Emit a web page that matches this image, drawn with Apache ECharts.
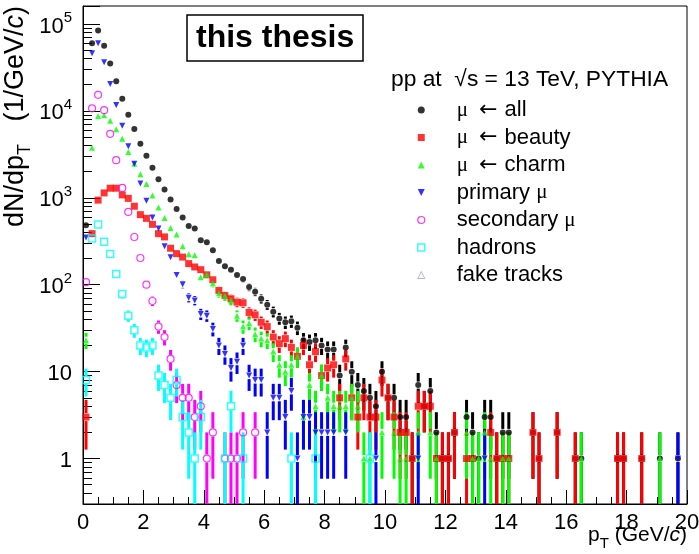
<!DOCTYPE html>
<html><head><meta charset="utf-8">
<script src="https://cdn.jsdelivr.net/npm/echarts@6/dist/echarts.min.js"></script>
<style>html,body{margin:0;padding:0;background:#fff}#c{width:699px;height:554px}</style>
</head><body><div id="c"></div>
<script>
// ---- histogram binning (0.2 GeV/c bins from 0 to 20) ----
const binWidth = 0.2;
const nBins = 100;
const binCenters = [];
for (let i = 0; i < nBins; i++) binCenters.push(Math.round((0.1 + binWidth * i) * 10) / 10);

// ---- series values, 10 bins (2 GeV/c) per row ----
const muAll = [
  483, 60000, 84000, 56000, 35000, 22000, 13800, 9000, 6200, 4200,
  3040, 2210, 1640, 1250, 955, 745, 593, 475, 443, 325,
  308, 249, 188, 163, 149, 129, 116, 94, 83, 69,
  59, 49, 41, 37, 38, 32, 23, 22, 23, 20,
  18, 18, 9, 19, 10, 7, 6, 5, 4, 10,
  5, 5, 3, 3, 1, 7, 4, 6, 2, 1,
  1, 2, 0, 3, 2, 1, 3, 3, 1, 2,
  2, 0, 0, 0, 2, 1, 0, 0, 2, 0,
  0, 1, 1, 0, 0, 0, 0, 0, 1, 1,
  0, 0, 1, 0, 0, 1, 0, 0, 1, 0
];
const muBeauty = [
  3, 387, 940, 1138, 1290, 1290, 1080, 985, 800, 640,
  580, 495, 387, 355, 263, 228, 208, 175, 160, 149,
  130, 114, 86, 75, 69, 63, 62, 48, 45, 37,
  33, 25, 21, 24, 19, 15, 20, 12, 17, 9,
  11, 12, 5, 14, 5, 3, 5, 3, 3, 8,
  5, 3, 2, 2, 1, 4, 4, 4, 1, 1,
  1, 2, 0, 1, 1, 0, 0, 2, 1, 1,
  1, 0, 0, 0, 2, 1, 0, 0, 2, 0,
  0, 1, 0, 0, 0, 0, 0, 0, 1, 1,
  0, 0, 1, 0, 0, 0, 0, 0, 0, 0
];
const muCharm = [
  23, 3760, 8710, 8900, 7700, 6160, 4790, 3370, 2470, 1870,
  1440, 1060, 775, 585, 450, 378, 278, 224, 218, 122,
  130, 103, 80, 74, 66, 44, 33, 36, 27, 24,
  23, 17, 12, 10, 12, 15, 3, 7, 4, 9,
  5, 4, 4, 4, 5, 4, 1, 1, 0, 2,
  0, 2, 1, 1, 0, 2, 0, 2, 1, 0,
  0, 0, 0, 2, 1, 1, 2, 1, 0, 1,
  1, 0, 0, 0, 0, 0, 0, 0, 0, 0,
  0, 0, 1, 0, 0, 0, 0, 0, 0, 0,
  0, 0, 0, 0, 0, 1, 0, 0, 0, 0
];
const muPrimary = [
  349, 45900, 60000, 36200, 20400, 11700, 6730, 3930, 2470, 1460,
  925, 595, 443, 277, 207, 129, 101, 71, 66, 46,
  44, 31, 20, 16, 11, 13, 20, 9, 8, 8,
  2, 5, 5, 3, 6, 1, 3, 3, 2, 2,
  2, 2, 0, 2, 0, 0, 0, 0, 1, 0,
  0, 0, 0, 0, 0, 1, 0, 0, 0, 0,
  0, 0, 0, 0, 0, 0, 1, 0, 0, 0,
  0, 0, 0, 0, 0, 0, 0, 0, 0, 0,
  0, 0, 0, 0, 0, 0, 0, 0, 0, 0,
  0, 0, 0, 0, 0, 0, 0, 0, 1, 0
];
const muSecondary = [
  107, 10700, 15300, 10200, 5450, 2710, 1300, 688, 354, 203,
  100, 65, 33, 25, 14, 7, 5, 5, 3, 4,
  1, 2, 0, 1, 1, 1, 2, 0, 2, 0,
  0, 0, 0, 0, 0, 0, 0, 0, 0, 0,
  0, 0, 0, 0, 0, 0, 0, 0, 0, 0,
  0, 0, 0, 0, 0, 0, 0, 0, 0, 0,
  0, 0, 0, 0, 0, 0, 0, 0, 0, 0,
  0, 0, 0, 0, 0, 0, 0, 0, 0, 0,
  0, 0, 0, 0, 0, 0, 0, 0, 0, 0,
  0, 0, 0, 0, 0, 0, 0, 0, 0, 0
];
const hadrons = [
  8, 340, 492, 313, 225, 133, 78, 44, 30, 20,
  19, 20, 9, 7, 5, 8, 3, 2, 1, 3,
  0, 0, 0, 1, 4, 0, 1, 0, 0, 0,
  0, 0, 0, 0, 1, 0, 0, 0, 1, 0,
  0, 0, 0, 0, 0, 0, 0, 1, 0, 0,
  0, 0, 0, 0, 0, 0, 0, 0, 0, 0,
  0, 0, 0, 0, 0, 0, 0, 0, 0, 0,
  0, 0, 0, 0, 0, 0, 0, 0, 0, 0,
  0, 0, 0, 0, 0, 0, 0, 0, 0, 0,
  0, 0, 0, 0, 0, 0, 0, 0, 0, 0
];
const fakeTracks = [];

const legendNames = ['μ ← all', 'μ ← beauty', 'μ ← charm', 'primary μ', 'secondary μ', 'hadrons', 'fake tracks'];
const headerText = 'pp at  √s = 13 TeV, PYTHIA';

const FONT = '"Liberation Sans", Arial, Helvetica, sans-serif';
const SERIF = '"Liberation Serif", "Times New Roman", serif';
const ARROWFONT = '"DejaVu Sans", sans-serif';
const Y_MIN = 0.3, Y_MAX = 161000;
const INV_TRI = 'path://M0,0L10,0L5,10Z';

const histos = [
  {name: legendNames[0], values: muAll, color: '#000000', symbol: 'circle', size: 6, filled: true},
  {name: legendNames[1], values: muBeauty, color: '#ff0000', symbol: 'rect', size: 7, filled: true},
  {name: legendNames[2], values: muCharm, color: '#00ff00', symbol: 'triangle', size: 6, filled: true},
  {name: legendNames[3], values: muPrimary, color: '#0000ff', symbol: INV_TRI, size: 6, filled: true},
  {name: legendNames[4], values: muSecondary, color: '#ff00ff', symbol: 'circle', size: 7, filled: false, bw: 1.2},
  {name: legendNames[5], values: hadrons, color: '#00ffff', symbol: 'rect', size: 7, filled: false, bw: 1.5},
  {name: legendNames[6], values: fakeTracks, color: '#a0a0c8', symbol: 'triangle', size: 6, filled: false, bw: 1}
];

function errRender(color, gap) {
  return function (params, api) {
    const x = api.value(0), v = api.value(1), e = Math.sqrt(v);
    const c = api.coord([x, v]);
    const hi = api.coord([x, v + e]);
    const lo = api.coord([x, Math.max(v - e, Y_MIN * 0.8)]);
    const children = [];
    const st = {stroke: color, lineWidth: 3};
    if (c[1] - gap > hi[1]) children.push({type: 'line', shape: {x1: c[0], y1: c[1] - gap, x2: c[0], y2: hi[1]}, style: st});
    if (c[1] + gap < lo[1]) children.push({type: 'line', shape: {x1: c[0], y1: c[1] + gap, x2: c[0], y2: lo[1]}, style: st});
    return {type: 'group', children: children};
  };
}

const series = [];
histos.forEach(function (h) {
  const pts = [];
  h.values.forEach(function (v, i) { if (v > 0) pts.push([binCenters[i], v]); });
  series.push({
    type: 'custom', name: h.name + ' (err)', data: pts, clip: true, silent: true,
    renderItem: errRender(h.color, h.size / 2 + 0.5), z: 2
  });
  series.push({
    type: 'scatter', name: h.name, data: pts, symbol: h.symbol, symbolSize: h.size, silent: true, z: 2,
    itemStyle: h.filled ? {color: h.color} : {color: 'rgba(0,0,0,0)', borderColor: h.color, borderWidth: h.bw}
  });
});

function legendFormat(n) {
  if (n.indexOf(' ← ') >= 0) {
    const parts = n.split(' ← ');
    return '{m|' + parts[0] + '}{ar| ←}{t| ' + parts[1] + '}';
  }
  return n.replace('μ', '{m|μ}');
}

const chart = echarts.init(document.getElementById('c'), null, {renderer: 'canvas'});
chart.setOption({
  animation: false,
  backgroundColor: '#ffffff',
  textStyle: {fontFamily: FONT},
  grid: {left: 83, right: 12, top: 6, bottom: 50, show: true, borderColor: '#000', borderWidth: 1, containLabel: false, outerBoundsMode: 'none'},
  title: [
    {text: 'this thesis', left: 187, top: 15, padding: [7, 9], borderColor: '#000', borderWidth: 1.5,
     textStyle: {fontSize: 32, fontWeight: 'bold', fontFamily: FONT, color: '#000', lineHeight: 32}},
    {text: headerText, left: 391, top: 69, padding: 0,
     textStyle: {fontSize: 22.8, fontWeight: 'normal', fontFamily: FONT, color: '#000', lineHeight: 22}}
  ],
  legend: {
    orient: 'vertical', left: 417, top: 99, padding: 0, itemWidth: 7, itemHeight: 7, itemGap: 5.5,
    selectedMode: false,
    formatter: legendFormat,
    textStyle: {fontSize: 22, fontFamily: FONT, color: '#000', lineHeight: 22, padding: [0, 0, 0, 27],
      rich: {
        m: {fontSize: 21, fontFamily: SERIF, color: '#000', lineHeight: 22, height: 22},
        ar: {fontSize: 22, fontFamily: ARROWFONT, color: '#000', lineHeight: 22, height: 22, padding: [0, 1, 0, 4]},
        t: {fontSize: 22, fontFamily: FONT, color: '#000', lineHeight: 22, height: 22}
      }},
    data: legendNames.map(function (n, i) {
      const h = histos[i];
      return {name: n, icon: h.symbol,
        itemStyle: h.filled ? {color: h.color, borderWidth: 0} : {color: 'rgba(0,0,0,0)', borderColor: h.color, borderWidth: h.bw}};
    })
  },
  xAxis: {
    type: 'value', min: 0, max: 20, interval: 2,
    axisLine: {show: true, lineStyle: {color: '#000', width: 1}},
    axisTick: {show: true, inside: true, length: 14, lineStyle: {color: '#000'}},
    minorTick: {show: true, splitNumber: 4, length: 7, lineStyle: {color: '#000'}},
    splitLine: {show: false},
    axisLabel: {fontSize: 22, color: '#000', margin: 8, fontFamily: FONT},
    name: '{n|p}{sub|T}{n| (GeV/}{i|c}{n|)}',
    nameLocation: 'end', nameGap: 0, nameMoveOverlap: false,
    nameTextStyle: {align: 'right', verticalAlign: 'top', padding: [21, 0, 0, 0], fontSize: 21, color: '#000',
      rich: {
        n: {fontSize: 21, fontFamily: FONT, lineHeight: 21, verticalAlign: 'top', color: '#000'},
        i: {fontSize: 21, fontFamily: FONT, fontStyle: 'italic', lineHeight: 21, verticalAlign: 'top', color: '#000'},
        sub: {fontSize: 15, fontFamily: FONT, lineHeight: 26, verticalAlign: 'bottom', color: '#000'}
      }}
  },
  yAxis: {
    type: 'log', logBase: 10, min: Y_MIN, max: Y_MAX,
    axisLine: {show: true, lineStyle: {color: '#000', width: 1}},
    axisTick: {show: true, inside: true, length: 17, lineStyle: {color: '#000'}},
    minorTick: {show: true, splitNumber: 9, length: 9, lineStyle: {color: '#000'}},
    splitLine: {show: false},
    axisLabel: {
      margin: 11, color: '#000', showMinLabel: false, showMaxLabel: false,
      formatter: function (v) {
        const l = Math.log10(v), e = Math.round(l);
        if (Math.abs(l - e) > 1e-6) return '';
        if (e === 0) return '{a|1}';
        if (e === 1) return '{a|10}';
        return '{a|10}{s|' + e + '}';
      },
      rich: {
        a: {fontSize: 22, fontFamily: FONT, lineHeight: 27, verticalAlign: 'bottom', color: '#000'},
        s: {fontSize: 15, fontFamily: FONT, lineHeight: 11, verticalAlign: 'top', color: '#000'}
      }
    },
    name: '{n|dN/dp}{sub|T}{n|   (1/GeV/}{i|c}{n|)}',
    nameLocation: 'end', nameGap: 0, nameRotate: 90, nameMoveOverlap: false,
    nameTextStyle: {align: 'right', verticalAlign: 'bottom', padding: [0, 0, 49, 0], fontSize: 27, color: '#000',
      rich: {
        n: {fontSize: 27, fontFamily: FONT, lineHeight: 27, verticalAlign: 'top', color: '#000'},
        i: {fontSize: 27, fontFamily: FONT, fontStyle: 'italic', lineHeight: 27, verticalAlign: 'top', color: '#000'},
        sub: {fontSize: 18, fontFamily: FONT, lineHeight: 32, verticalAlign: 'bottom', color: '#000'}
      }}
  },
  series: series
});
</script></body></html>
